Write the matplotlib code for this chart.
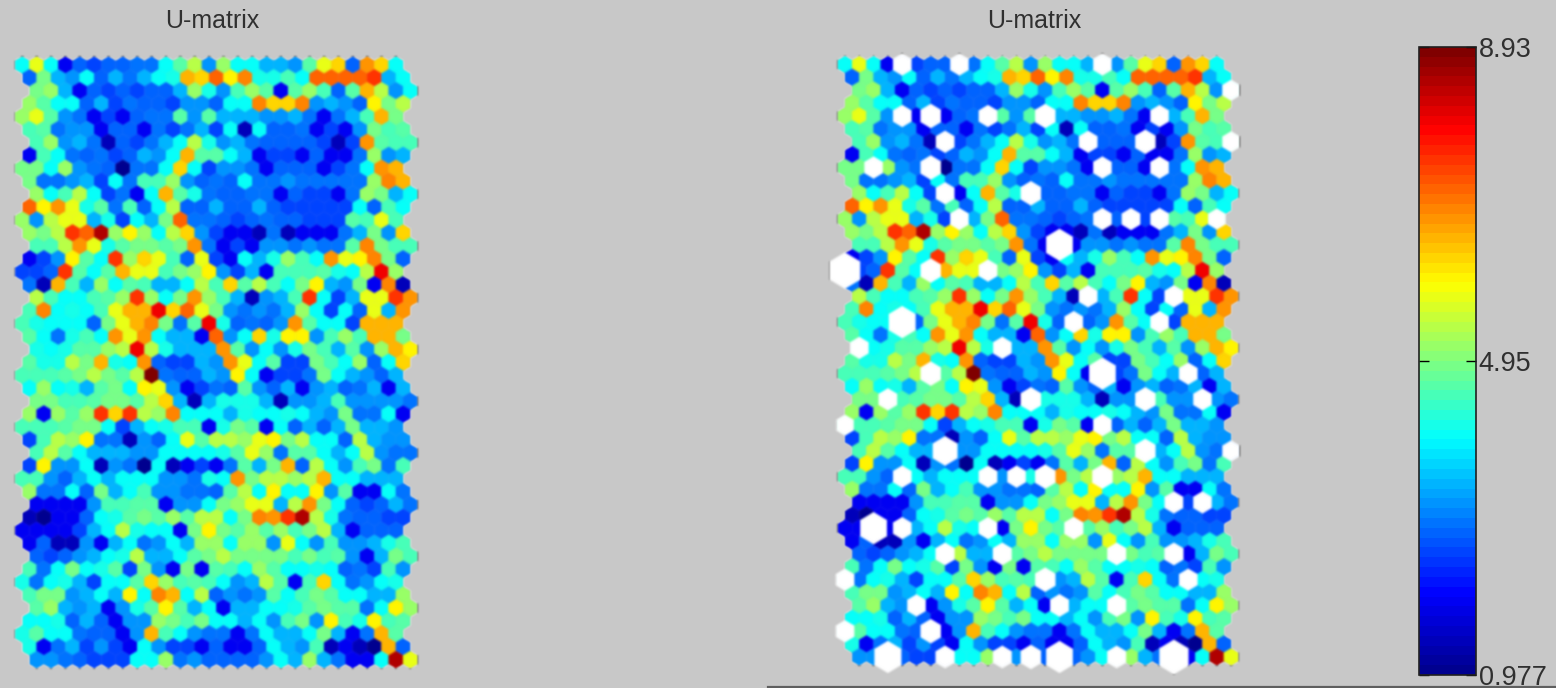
import numpy as np
import matplotlib
matplotlib.use("Agg")
import matplotlib.pyplot as plt
from matplotlib.collections import PolyCollection
from matplotlib.colors import LinearSegmentedColormap, Normalize
from matplotlib.lines import Line2D

plt.rcParams['font.family'] = ['Liberation Sans', 'DejaVu Sans']

# value estimated for each colour code
LEVELS = dict(a=1.0, b=1.45, c=1.97, d=2.47, e=2.72, f=2.96, g=3.2, h=3.46, i=3.96,
              j=4.2, k=4.46, l=4.7, m=4.95, n=5.2, o=5.45, p=5.7, q=5.95, r=6.3,
              s=6.45, t=6.7, u=6.94, v=7.18, w=7.44, x=7.94, y=8.45, z=8.93)

UMATRIX = [
    "ipicedeeff ilogniihhg lpretri",
    "emhgiehfhi jsrvqujjki vvvvwhi",
    "mnhcededee hnjgknlcln kelsogi",
    "nliiehdfee dggeiiurru ghgeqmo",
    "nplgfcdcef flglhhhggh fcfhksm",
    "klfggceecf dfhdibieef cdcgmkl",
    "knghfbedfh iojghfeeee dbdtlkk",
    "ckifefdehg isllihcddc eccfngh",
    "mmingfeaff iridggfcee ecdfits",
    "mffghdifkk ngefeiffgf ffffnus",
    "nikoidfcis ljfeeffced dcfnmhi",
    "vqtpjlfkei oeeheehedd dddieki",
    "ngopphjdih mvffedefee dddlkpk",
    "nmowvynqni orgdccbfbc ccfhmgr",
    "kkotpjlmml mtfcdcggfg fflumkk",
    "cdgqliwnrp kepdcihjnk itpqume",
    "ddewlilspp kmnqgdhckk kljioxn",
    "fbskhnilkh hiokrlokim qhgmcub",
    "okiiklnwni mtnkhbghkw idhppwt",
    "kuijikpssx rvpmgfgfhn idiepht",
    "kjiiiempsu mflxjefegt liidsss",
    "lifjkitpti hhcvgirjqq gknkssm",
    "jijllnoxoj hhhtlgigjm khlgnsq",
    "ljjomsjite ddhgtpildd mkineir",
    "kkklmomloz feehgqicdd fmihgeh",
    "inijhlmiqp gcdfelgehc ghefhch",
    "mmkklmmlor hbhjjjhbgg hkggggf",
    "ncnlnwrwon uiiihjiiji hgmffic",
    "kkklmmidhi jkkcjmlcie hehmhhg",
    "dkonqffbge iploonpqmo iieohgg",
    "kolihhhggi iiijlpnfll ihiogff",
    "dqggibgfai bcdcflhmse oigkmfk",
    "kkgehihiii ggfjitmoon osiihhh",
    "nffiemhikg gffeloiqii qglccif",
    "ccccgkkllc ggimnpphot miedehf",
    "bacceijlml nlooimutwy ojfeedd",
    "ccccdhioji icmqmlnlnk mohceee",
    "cebbgchifg ihnninngpi gkgghjk",
    "edeghijohh ilmommmmkm klgchmk",
    "kfimijldmg cmclkinlii jiefdkg",
    "jfijhdiilr nklkigholc krifgij",
    "kmmghihqiu sioegfglik mliihhn",
    "lnhghcgjlq lhichhiijl mllfiqn",
    "iijehecggn mkmiihigkm gqkjqkl",
    "jliifeecgs kigffcfihh imhcfsl",
    "jcfhdgdcig ddcecceihg kbcbase",
    "ggfedddiin fgeeeegihn hfcciyp",
]

# map units that carry hits, drawn white on the second map
HIT_ROWS = [0, 0, 0, 2, 4, 4, 4, 4, 4, 6, 6, 6, 6, 8, 8, 8, 8, 10, 10, 12, 12, 12, 12, 12,
            14, 16, 16, 16, 18, 18, 20, 20, 20, 22, 22, 24, 24, 24, 26, 26, 26, 26, 28, 28,
            30, 30, 30, 32, 32, 32, 32, 32, 34, 34, 36, 36, 36, 36, 38, 38, 38, 38,
            40, 40, 40, 42, 42, 42, 44, 44, 46, 46, 46, 46, 46, 46, 46]
HIT_COLS = [4, 8, 18, 26, 4, 6, 10, 14, 22, 6, 16, 20, 26, 2, 6, 18, 22, 6, 12, 8, 18, 20, 22, 26,
            14, 0, 6, 10, 16, 22, 4, 16, 22, 0, 10, 6, 18, 24, 2, 12, 20, 24, 0, 18,
            6, 20, 26, 4, 10, 12, 14, 18, 22, 24, 2, 4, 10, 16, 6, 10, 18, 22,
            0, 14, 24, 4, 14, 18, 0, 6, 2, 6, 10, 12, 14, 18, 22]
HIT_SIZES = [1.27, 1.27, 1.27, 1.2, 1.27, 1.4, 1.27, 1.4, 1.27, 1.27, 1.27, 1.4, 1.2, 1.27, 1.4, 1.27, 1.27, 1.27, 1.4,
             1.27, 1.27, 1.27, 1.27, 1.2,
             1.85, 2.1, 1.4, 1.27, 1.27, 1.27, 1.85, 1.27, 1.27, 1.27, 1.27, 1.4, 1.85, 1.27, 1.27, 1.4, 1.4, 1.27, 1.2, 1.27,
             1.7, 1.4, 1.2, 1.27, 1.27, 1.27, 1.4, 1.4, 1.27, 1.27, 1.85, 1.27, 1.27, 1.3, 1.3, 1.3, 1.3, 1.3,
             1.27, 1.4, 1.27, 1.27, 1.3, 1.3, 1.27, 1.4, 1.85, 1.3, 1.3, 1.4, 1.85, 1.3, 2.0]

TITLE = "U-matrix"
CBAR_TICKS = [0.977, 4.95, 8.93]
CBAR_LABELS = ["0.977", "4.95", "8.93"]
VMIN, VMAX = 0.977, 8.93

W, H = 1556, 688
BG = "#c8c8c8"
ROW_SHIFT = [0.0, 0.5, 1.0, 0.5]


def hexagon(x, y, s=1.0):
    return [(x, y - 2 * s / 3), (x + s / 2, y - s / 3), (x + s / 2, y + s / 3),
            (x, y + 2 * s / 3), (x - s / 2, y + s / 3), (x - s / 2, y - s / 3)]


def soften(img, dpi):
    """Light blur, as the reference is an enlarged screenshot."""
    pad = 2
    a = np.pad(img, ((pad, pad), (pad, pad), (0, 0)))
    kernel = np.array([1, 2, 1]) / 4
    for axis in (0, 1):
        a = np.apply_along_axis(lambda v: np.convolve(v, kernel, mode="same"), axis, a)
    return a, -pad, -pad


rows = [r.replace(" ", "") for r in UMATRIX]
for i, r in enumerate(rows):
    if len(r) != 27:
        raise SystemExit(f"bad row {i}: {len(r)}")
values = np.array([[LEVELS[c] for c in r] for r in rows])

cmap = LinearSegmentedColormap.from_list(
    "matlab_jet",
    [(0, (0, 0, .5625)), (1 / 8, (0, 0, 1)), (3 / 8, (0, 1, 1)), (5 / 8, (1, 1, 0)),
     (7 / 8, (1, 0, 0)), (1, (.5, 0, 0))], N=64)
norm = Normalize(VMIN, VMAX)

fig = plt.figure(figsize=(W / 100, H / 100), dpi=100, facecolor=BG)


def som_axes(px0, px1, x0, dx, y0, dy):
    ax = fig.add_axes([px0 / W, 0, (px1 - px0) / W, 1])
    ax.set_xlim((px0 - x0) / dx, (px1 - x0) / dx)
    ax.set_ylim((H - y0) / dy, -y0 / dy)
    ax.axis("off")
    polys, vals = [], []
    for r in range(values.shape[0]):
        for k in range(values.shape[1]):
            polys.append(hexagon(k + ROW_SHIFT[r % 4], r))
            vals.append(values[r, k])
    pc = PolyCollection(polys, array=np.array(vals), cmap=cmap, norm=norm,
                        edgecolors="face", linewidths=0.3)
    pc.set_agg_filter(soften)
    ax.add_collection(pc)
    return ax, pc


ax1, pc1 = som_axes(0, 500, 22.3, 14.37, 65.0, 12.93)
ax2, pc2 = som_axes(800, 1300, 845.0, 14.3, 64.5, 12.88)

hits = [hexagon(k + ROW_SHIFT[r % 4], r, s) for r, k, s in zip(HIT_ROWS, HIT_COLS, HIT_SIZES)]
hit_pc = PolyCollection(hits, facecolors="white", edgecolors="white", linewidths=0.3, zorder=5)
hit_pc.set_agg_filter(soften)
ax2.add_collection(hit_pc)

fig.text(212 / W, 1 - 21 / H, TITLE, ha="center", va="center", fontsize=18, color="#303030")
fig.text(1034 / W, 1 - 21 / H, TITLE, ha="center", va="center", fontsize=18, color="#303030")

cax = fig.add_axes([1419 / W, 1 - 675 / H, 57 / W, 628 / H])
cb = fig.colorbar(pc1, cax=cax, ticks=CBAR_TICKS)
cb.ax.set_yticklabels(CBAR_LABELS, fontsize=19.5, color="#303030")
cb.ax.tick_params(axis="y", direction="in", length=7, width=1, left=True, right=True, pad=2)
cb.outline.set_linewidth(1.2)
cb.outline.set_edgecolor("#202020")

fig.add_artist(Line2D([768 / W, 1], [1 - 686.5 / H] * 2, color="#5f5f5f", linewidth=1.6,
                      transform=fig.transFigure))

fig.savefig("out.png", dpi=100, facecolor=BG)
